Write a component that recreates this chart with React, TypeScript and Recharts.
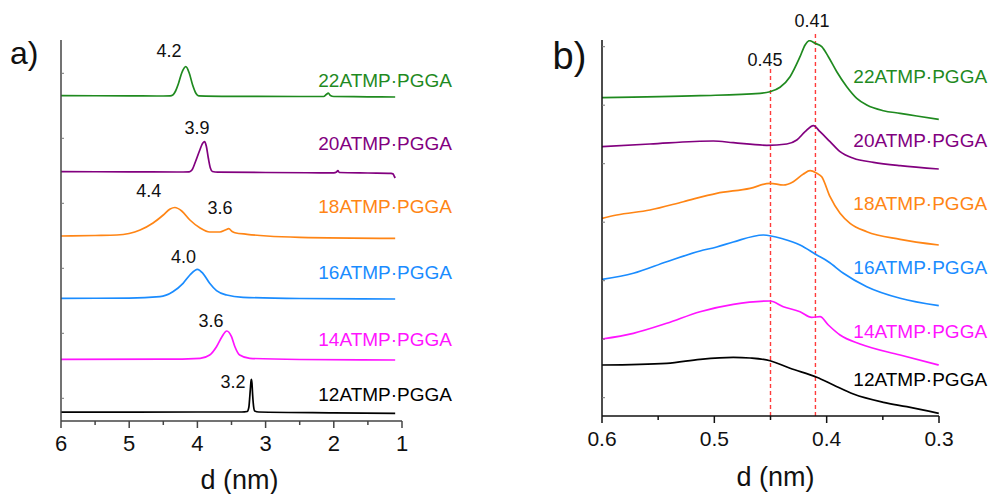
import React from 'react';
import { LineChart, Line, XAxis, YAxis, ReferenceLine, ReferenceDot } from 'recharts';

const FONT = '"Liberation Sans", Arial, sans-serif';

// sample names, top to bottom, and their colours
const seriesNames = ['22ATMP·PGGA', '20ATMP·PGGA', '18ATMP·PGGA', '16ATMP·PGGA', '14ATMP·PGGA', '12ATMP·PGGA'];
const seriesColors = ['#1f8a1f', '#82007f', '#ff8515', '#1a8cff', '#ff14ff', '#000000'];

// ---- panel a) small-angle region, [d (nm), offset intensity]
const a22 = [
  [6, 32.53], [5.0, 32.52], [4.6, 32.5], [4.4, 32.52], [4.36, 32.6], [4.32, 33.0], [4.28, 33.7],
  [4.23, 34.8], [4.17, 35.43], [4.12, 34.8], [4.07, 33.6], [4.02, 32.75], [3.98, 32.52], [3.5, 32.47],
  [2.5, 32.45], [2.15, 32.45], [2.11, 32.65], [2.08, 32.78], [2.05, 32.55], [2.0, 32.45], [1.5, 32.42], [1.1, 32.4],
];
const a20 = [
  [6, 24.93], [5, 24.92], [4.3, 24.9], [4.12, 24.92], [4.08, 25.1], [4.03, 25.9], [3.97, 27.0],
  [3.92, 27.8], [3.895, 27.93], [3.87, 27.5], [3.84, 26.3], [3.81, 25.3], [3.78, 24.95], [3.7, 24.88],
  [3.0, 24.85], [2.2, 24.82], [2.0, 24.82], [1.96, 24.9], [1.94, 25.05], [1.92, 24.85], [1.5, 24.8],
  [1.16, 24.77], [1.13, 24.7], [1.115, 24.5], [1.1, 24.3],
];
const a18 = [
  [6, 18.5], [5.5, 18.55], [5.18, 18.6], [4.84, 19.1], [4.65, 19.8], [4.5, 20.6], [4.4, 21.2],
  [4.33, 21.35], [4.23, 21.0], [4.11, 20.1], [3.96, 19.3], [3.82, 18.9], [3.67, 18.9], [3.59, 19.1],
  [3.54, 19.23], [3.49, 18.95], [3.45, 18.83], [3.27, 18.67], [2.98, 18.5], [2.5, 18.37], [1.1, 18.27],
];
const a16 = [
  [6, 12.27], [5, 12.28], [4.55, 12.43], [4.36, 12.93], [4.21, 13.77], [4.11, 14.6], [4.0, 15.17],
  [3.92, 14.77], [3.82, 13.77], [3.72, 13.03], [3.57, 12.6], [3.33, 12.37], [2.5, 12.25], [1.1, 12.2],
];
const a14 = [
  [6, 6.17], [4.5, 6.18], [3.96, 6.27], [3.82, 6.6], [3.72, 7.43], [3.64, 8.43], [3.57, 9.0],
  [3.5, 8.43], [3.45, 7.43], [3.38, 6.6], [3.23, 6.27], [2.5, 6.15], [1.1, 6.1],
];
const a12 = [
  [6, 0.88], [4, 0.9], [3.35, 0.9], [3.27, 0.95], [3.245, 1.4], [3.23, 2.6], [3.215, 3.9], [3.21, 4.17],
  [3.2, 3.8], [3.19, 2.6], [3.175, 1.4], [3.16, 1.0], [3.1, 0.9], [2.0, 0.82], [1.1, 0.77],
];

// ---- panel b) wide-angle region
const b22 = [
  [0.6, 31.83], [0.5127, 32.03], [0.4593, 32.27], [0.4504, 32.43], [0.4415, 32.87], [0.4326, 33.93],
  [0.4237, 35.93], [0.4192, 37.1], [0.4154, 37.53], [0.4103, 37.27], [0.4044, 36.93], [0.3985, 35.93],
  [0.391, 34.43], [0.3821, 32.93], [0.3732, 31.77], [0.3643, 31.1], [0.3495, 30.53], [0.3346, 30.27],
  [0.3198, 30.0], [0.3002, 29.67],
];
const b20 = [
  [0.6, 26.93], [0.5573, 27.2], [0.5009, 27.5], [0.4831, 27.33], [0.4533, 27.07], [0.4355, 27.2],
  [0.4266, 27.6], [0.4192, 28.43], [0.4118, 29.03], [0.4059, 28.43], [0.397, 27.43], [0.3881, 26.43],
  [0.3762, 25.77], [0.3584, 25.37], [0.3346, 25.03], [0.3002, 24.7],
];
const b18 = [
  [0.6, 19.77], [0.5869, 20.1], [0.5573, 20.6], [0.5276, 21.43], [0.4979, 22.27], [0.4682, 22.77],
  [0.4504, 23.27], [0.4386, 23.1], [0.4297, 23.43], [0.4207, 24.2], [0.4148, 24.53], [0.4088, 24.27],
  [0.4044, 23.93], [0.397, 21.93], [0.3881, 20.27], [0.3792, 19.27], [0.3643, 18.43], [0.3346, 17.67],
  [0.3002, 17.1],
];
const b16 = [
  [0.6, 13.67], [0.5721, 14.27], [0.5424, 15.43], [0.5127, 16.5], [0.4979, 16.9], [0.4831, 17.4],
  [0.4564, 18.1], [0.4386, 17.7], [0.4237, 17.1], [0.4088, 16.1], [0.3985, 15.43], [0.3851, 14.27],
  [0.3643, 12.93], [0.3346, 11.77], [0.3002, 11.03],
];
const b14 = [
  [0.6, 7.7], [0.5721, 8.27], [0.5424, 9.27], [0.5127, 10.43], [0.4831, 11.17], [0.4504, 11.5],
  [0.4386, 10.93], [0.4237, 10.43], [0.4133, 9.87], [0.4059, 9.93], [0.3985, 9.1], [0.3881, 8.1],
  [0.3703, 7.2], [0.3346, 6.1], [0.3002, 5.1],
];
const b12 = [
  [0.6, 5.1], [0.5424, 5.27], [0.5127, 5.67], [0.4831, 5.87], [0.4682, 5.8], [0.4504, 5.53],
  [0.4326, 4.77], [0.4088, 3.87], [0.394, 3.1], [0.3762, 2.2], [0.3495, 1.37], [0.3287, 0.93], [0.3002, 0.27],
];

// axis ticks
const aXTicks = [1, 1.5, 2, 2.5, 3, 3.5, 4, 4.5, 5, 5.5, 6];
const bXTicks = [0.3, 0.35, 0.4, 0.45, 0.5, 0.55, 0.6];
const aYTicks = [2.27, 8.77, 15.27, 21.77, 28.27, 34.77];
const bYTicks = [1.83, 7.68, 13.53, 19.38, 25.23, 31.08, 36.93];

// peak annotations: text and the (d, intensity) spot it sits at
const aPeakText = ['4.2', '3.9', '4.4', '3.6', '4.0', '3.6', '3.2'];
const aPeakAt = [[4.416, 36.43], [4.006, 28.7], [4.714, 22.43], [3.669, 20.7], [4.204, 15.77], [3.801, 9.37], [3.478, 3.27]];
const bPeakText = ['0.45', '0.41'];
const bPeakAt = [[0.4549, 35.03], [0.413, 38.93]];
const bMarkers = [0.45, 0.41];
const bMarkerTop = [34.8, 38.4];

// where the sample names end (right edge) in each panel
const aNameAt = [[0.267, 33.4], [0.267, 27.1], [0.267, 20.77], [0.267, 14.2], [0.267, 7.53], [0.267, 2.0]];
const bNameAt = [[0.2572, 33.27], [0.2572, 26.93], [0.2572, 20.6], [0.2572, 14.17], [0.2572, 7.83], [0.2572, 3.0]];

const aData = [a22, a20, a18, a16, a14, a12];
const bData = [b22, b20, b18, b16, b14, b12];
const toPts = (arr: number[][]) => arr.map(([d, v]) => ({ d, v }));

const textShape = (text: string, size: number, color: string, anchor = 'middle') => (p: any) => (
  <text x={p.cx} y={p.cy} textAnchor={anchor} fontSize={size} fontFamily={FONT} fill={color}>
    {text}
  </text>
);

const xTick = (isMajor: (v: number) => boolean, fmt: (v: number) => string, size: number, color: string) => (p: any) => {
  const v = p.payload.value;
  const major = isMajor(v);
  return (
    <g>
      <line x1={p.x} x2={p.x} y1={p.y} y2={p.y + (major ? 7 : 4)} stroke={color} strokeWidth={1.5} />
      {major && (
        <text x={p.x} y={p.y + 30} textAnchor="middle" fontSize={size} fontFamily={FONT} fill="#111">
          {fmt(v)}
        </text>
      )}
    </g>
  );
};

const yTick = (p: any) => <line x1={p.x} x2={p.x + 3} y1={p.y} y2={p.y} stroke="#777" strokeWidth={1} />;

const axisTitle = (dx: number, dy: number) => (p: any) => {
  const vb = p.viewBox;
  return (
    <text x={vb.x + vb.width / 2 + dx} y={vb.y + dy} textAnchor="middle" fontSize={27} fontFamily={FONT} fill="#111">
      d (nm)
    </text>
  );
};

const panelLetter = (t: string, dx: number, dy: number, size: number) => (p: any) => {
  const vb = p.viewBox;
  return (
    <text x={vb.x + vb.width + dx} y={vb.y + dy} fontSize={size} fontFamily={FONT} fill="#111">
      {t}
    </text>
  );
};

export default function App() {
  return (
    <div style={{ position: 'absolute', left: 0, top: 0, width: 989, height: 494, background: '#fff' }}>
      <div style={{ position: 'absolute', left: 0, top: 0 }}>
        <LineChart width={480} height={494} margin={{ top: 40, right: 78, bottom: 0, left: 0 }}>
          <XAxis
            type="number"
            dataKey="d"
            domain={[1, 6]}
            reversed
            allowDataOverflow
            ticks={aXTicks}
            interval={0}
            height={73}
            tickSize={0}
            tickMargin={0}
            tickLine={false}
            axisLine={{ stroke: '#444', strokeWidth: 1.5 }}
            tick={xTick((v) => Number.isInteger(v), (v) => String(v), 22, '#444')}
            label={axisTitle(8, 68)}
          />
          <YAxis
            type="number"
            dataKey="v"
            domain={[0, 38.1]}
            allowDataOverflow
            ticks={aYTicks}
            interval={0}
            width={61}
            tickSize={0}
            tickMargin={0}
            tickLine={false}
            axisLine={{ stroke: '#444', strokeWidth: 1.5 }}
            tick={yTick}
            label={panelLetter('a)', -51, 24, 32)}
          />
          {aData.map((s, i) => (
            <Line
              key={seriesNames[i]}
              data={toPts(s)}
              dataKey="v"
              type="monotone"
              stroke={seriesColors[i]}
              strokeWidth={1.7}
              dot={false}
              isAnimationActive={false}
            />
          ))}
          {aPeakText.map((t, i) => (
            <ReferenceDot key={'ap' + i} x={aPeakAt[i][0]} y={aPeakAt[i][1]} r={0} ifOverflow="visible" shape={textShape(t, 18, '#111')} />
          ))}
          {seriesNames.map((n, i) => (
            <ReferenceDot key={'an' + i} x={aNameAt[i][0]} y={aNameAt[i][1]} r={0} ifOverflow="visible" shape={textShape(n, 19, seriesColors[i], 'end')} />
          ))}
        </LineChart>
      </div>
      <div style={{ position: 'absolute', left: 480, top: 0 }}>
        <LineChart width={509} height={494} margin={{ top: 40, right: 50, bottom: 0, left: 0 }}>
          <XAxis
            type="number"
            dataKey="d"
            domain={[0.3, 0.6]}
            reversed
            allowDataOverflow
            ticks={bXTicks}
            interval={0}
            height={78}
            tickSize={0}
            tickMargin={0}
            tickLine={false}
            axisLine={{ stroke: '#111', strokeWidth: 1.5 }}
            tick={xTick((v) => Math.abs(v * 10 - Math.round(v * 10)) < 1e-6, (v) => v.toFixed(1), 21, '#111')}
            label={axisTitle(5, 70)}
          />
          <YAxis
            type="number"
            dataKey="v"
            domain={[0, 37.6]}
            allowDataOverflow
            ticks={bYTicks}
            interval={0}
            width={122}
            tickSize={0}
            tickMargin={0}
            tickLine={false}
            axisLine={{ stroke: '#111', strokeWidth: 1.5 }}
            tick={yTick}
            label={panelLetter('b)', -49.5, 28.7, 38)}
          />
          {bMarkers.map((m, i) => (
            <ReferenceLine
              key={'m' + i}
              segment={[{ x: m, y: 0 }, { x: m, y: bMarkerTop[i] }]}
              stroke="#ff3b3b"
              strokeWidth={1.4}
              strokeDasharray="4 3"
              ifOverflow="visible"
            />
          ))}
          {bData.map((s, i) => (
            <Line
              key={seriesNames[i]}
              data={toPts(s)}
              dataKey="v"
              type="monotone"
              stroke={seriesColors[i]}
              strokeWidth={1.7}
              dot={false}
              isAnimationActive={false}
            />
          ))}
          {bPeakText.map((t, i) => (
            <ReferenceDot key={'bp' + i} x={bPeakAt[i][0]} y={bPeakAt[i][1]} r={0} ifOverflow="visible" shape={textShape(t, 18, '#111')} />
          ))}
          {seriesNames.map((n, i) => (
            <ReferenceDot key={'bn' + i} x={bNameAt[i][0]} y={bNameAt[i][1]} r={0} ifOverflow="visible" shape={textShape(n, 19, seriesColors[i], 'end')} />
          ))}
        </LineChart>
      </div>
    </div>
  );
}
